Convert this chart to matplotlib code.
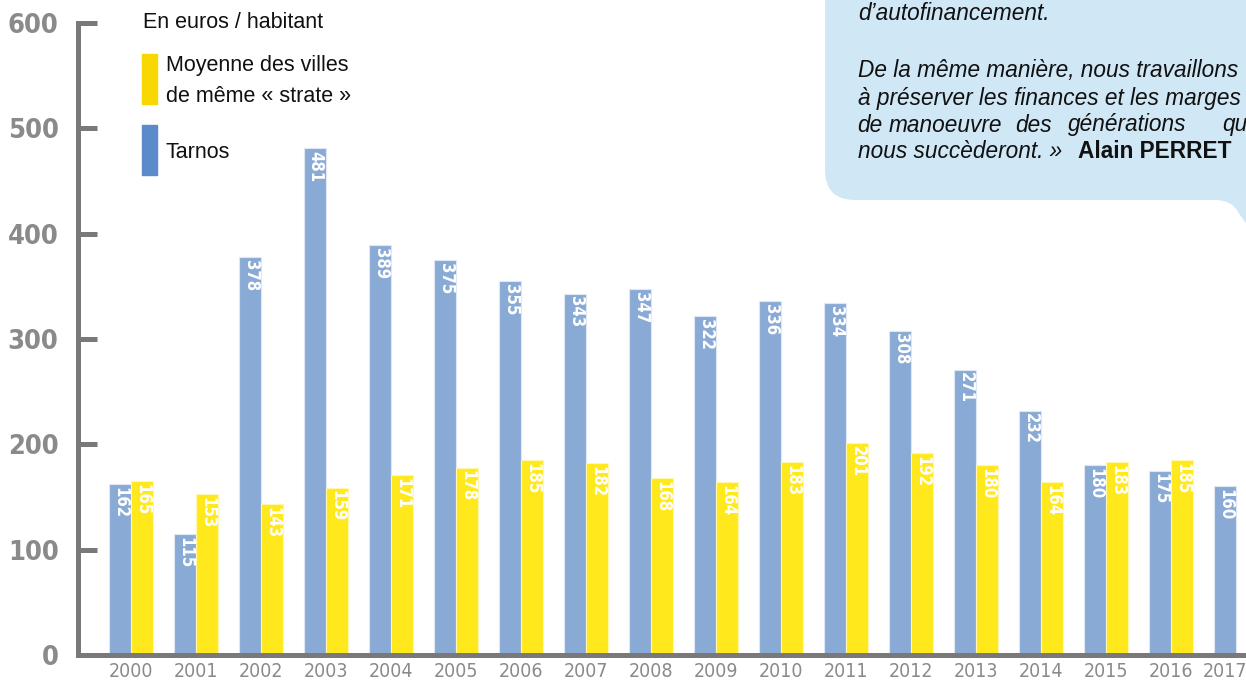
import matplotlib
matplotlib.use("Agg")
import matplotlib.pyplot as plt
from matplotlib.transforms import Affine2D
from matplotlib.path import Path
from matplotlib.patches import PathPatch, Rectangle

# Données (euros / habitant)
annees = ['2000', '2001', '2002', '2003', '2004', '2005', '2006', '2007', '2008',
          '2009', '2010', '2011', '2012', '2013', '2014', '2015', '2016', '2017']
tarnos = [162, 115, 378, 481, 389, 375, 355, 343, 347, 322, 336, 334, 308, 271, 232, 180, 175, 160]
moyenne = [165, 153, 143, 159, 171, 178, 185, 182, 168, 164, 183, 201, 192, 180, 164, 183, 185]
y_ticks = [0, 100, 200, 300, 400, 500, 600]

W, H = 1246, 682
BLEU = '#8aaad6'
JAUNE = '#ffe81c'
GRIS = '#7b7879'
SANS = ['Liberation Sans', 'DejaVu Sans']
COND = dict(family='DejaVu Sans', stretch='condensed')

fig = plt.figure(figsize=(W / 100, H / 100), dpi=100)
# transformation en pixels depuis le haut gauche
px = Affine2D().scale(1 / W, -1 / H).translate(0, 1) + fig.transFigure

# axes : spine gauche à x=78, zéro à y=655, 600 à y=23
ax = fig.add_axes([78 / W, 27 / H, (W - 78) / W, 632 / H])
ax.set_ylim(0, 600)
pas = 65.0
x0 = 131.0
ax.set_xlim((78 - x0) / pas, (W - x0) / pas)

bw = 22 / pas
xs = list(range(len(annees)))
bars_t = ax.bar([x - bw / 2 for x in xs], tarnos, bw, color=BLEU,
                edgecolor='#dfe7f2', linewidth=0.8, zorder=2)
bars_m = ax.bar([x + bw / 2 for x in xs[:len(moyenne)]], moyenne, bw, color=JAUNE,
                edgecolor='#fff6b0', linewidth=0.8, zorder=2)

for bars in (bars_t, bars_m):
    for b in bars:
        v = b.get_height()
        ax.annotate(f'{int(v)}', (b.get_x() + b.get_width() / 2, v),
                    xytext=(0.5, -2), textcoords='offset points',
                    rotation=270, ha='center', va='top', color='white',
                    fontsize=12, fontweight='bold', zorder=3, **COND)

for s in ('top', 'right'):
    ax.spines[s].set_visible(False)
for s in ('left', 'bottom'):
    ax.spines[s].set_color(GRIS)
    ax.spines[s].set_linewidth(3.6)
ax.spines['left'].set_bounds(0, 600)

ax.set_yticks(y_ticks)
ax.set_yticklabels([str(t) for t in y_ticks], fontweight='bold',
                   fontsize=19.5, color='#8a8a8a', **COND)
ax.tick_params(axis='y', direction='in', length=14, width=3.6, color=GRIS, pad=14)
# étiquette centrée sous la barre seule quand la moyenne manque
ax.set_xticks([x if x < len(moyenne) else x - bw / 2 for x in xs])
ax.set_xticklabels(annees, fontsize=14, color='#8a8a8a', **COND)
ax.tick_params(axis='x', length=0, pad=5)
ax.set_facecolor('none')

# légende
leg = dict(transform=px, fontsize=15.5, family=SANS, va='center', ha='left', color='#111111')
fig.text(143, 22, 'En euros / habitant', **leg)
fig.patches.append(Rectangle((142, 54), 15, 50, transform=px, color='#f8d800'))
fig.patches.append(Rectangle((142, 125), 15, 50, transform=px, color='#5b8bcb'))
fig.text(166, 65, 'Moyenne des villes', **leg)
fig.text(166, 96, 'de même « strate »', **leg)
fig.text(166, 152, 'Tarnos', **leg)

# encadré citation
verts = [(825, -10), (825, 170), (825, 200), (855, 200), (1215, 200),
         (1232, 200), (1238, 212), (1252, 232), (1252, -10), (825, -10)]
codes = [Path.MOVETO, Path.LINETO, Path.CURVE3, Path.CURVE3, Path.LINETO,
         Path.CURVE3, Path.CURVE3, Path.LINETO, Path.LINETO, Path.CLOSEPOLY]
fig.patches.append(PathPatch(Path(verts, codes), transform=px,
                             facecolor='#d0e7f5', edgecolor='none', zorder=0))

txt = dict(transform=px, fontsize=16.3, family=SANS, style='italic',
           va='center', ha='left', color='#111111')
fig.text(858, 13, 'd’autofinancement.', **txt)
fig.text(858, 70, 'De la même manière, nous travaillons', **txt)
fig.text(858, 98, 'à préserver les finances et les marges', **txt)
for mot, xm in [('de', 857), ('manoeuvre', 889), ('des', 1015),
                ('générations', 1068), ('qui', 1222)]:
    fig.text(xm, 125, mot, **txt)
fig.text(858, 152, 'nous succèderont. »', **txt)
fig.text(1078, 152, 'Alain PERRET', transform=px, fontsize=16.3, family=SANS,
         fontweight='bold', va='center', ha='left', color='#111111')

fig.savefig('out.png', dpi=100)
